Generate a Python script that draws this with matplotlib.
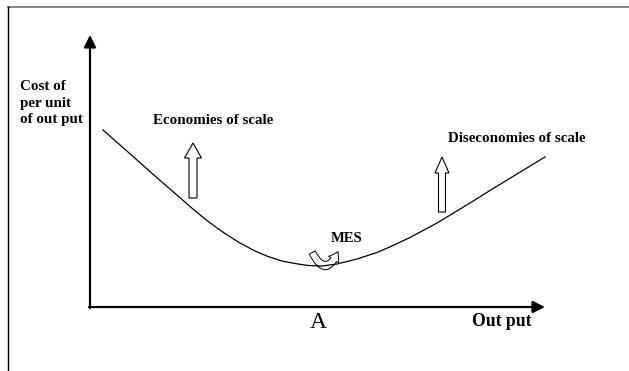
import numpy as np
import matplotlib
matplotlib.use("Agg")
import matplotlib.pyplot as plt
from matplotlib.patches import FancyArrow, FancyArrowPatch
from matplotlib.lines import Line2D

plt.rcParams['font.family'] = ['Liberation Serif', 'DejaVu Serif']

# long-run average cost curve (output, cost per unit)
output = [13, 38, 65, 88, 100, 115, 127, 138, 150, 165, 178, 192, 205, 218, 232,
          247, 267, 287, 303, 320, 347, 380, 400, 427, 455]
cost = [177, 155, 131, 111, 100.5, 88, 79, 71.5, 64, 56, 50.5, 46, 43.5, 41.5, 41,
        43, 48, 54.5, 61.5, 69.5, 84, 104, 116.5, 133, 150]

x_max = 455      # end of output axis
y_max = 272      # end of cost axis
a_marks = [194, 258]   # small breaks on the output axis around A
a_pos = 228

fig = plt.figure(figsize=(6.29, 3.71), dpi=100)
ax = fig.add_axes([0, 0, 1, 1])
ax.set_xlim(-90, 539)
ax.set_ylim(-64, 307)
ax.axis('off')

# frame of the page
fig.add_artist(Line2D([8 / 629, 1], [1 - 7 / 371] * 2, color='#707070', lw=1.2))
fig.add_artist(Line2D([8 / 629] * 2, [0, 1 - 7 / 371], color='black', lw=1.0))

# axes with arrows
arr = dict(arrowstyle='-|>,head_length=0.6,head_width=0.3', color='black', lw=1.6,
           shrinkA=0, shrinkB=0, mutation_scale=12)
ax.annotate('', xy=(0, y_max), xytext=(0, -1), arrowprops=arr)
ax.annotate('', xy=(x_max, 0), xytext=(-1, 0), arrowprops=arr)
for m in a_marks:
    ax.plot([m, m], [-2, 2], color='white', lw=1.2)

# cost curve
ax.plot(output, cost, color='black', lw=0.9, solid_joinstyle='round')

# hollow arrows
ax.add_patch(FancyArrow(103, 109, 0, 55, width=8, head_width=17, head_length=15,
                        length_includes_head=True, fc='white', ec='black', lw=0.8))
ax.add_patch(FancyArrow(352, 95, 0, 55, width=7, head_width=14, head_length=16,
                        length_includes_head=True, fc='white', ec='black', lw=0.8))
ax.add_patch(FancyArrowPatch((221, 57), (249, 58), connectionstyle='arc3,rad=1.15',
                             arrowstyle='simple,head_length=0.6,head_width=0.8,tail_width=0.45',
                             mutation_scale=11, fc='white', ec='black', lw=0.7))

# labels
bold = dict(fontsize=10.8, fontweight='bold')
ax.text(-70, 204, 'Cost of\nper unit\nof out put', ha='left', va='center', linespacing=1.35, **bold)
ax.text(123, 187, 'Economies of scale', ha='center', va='center', **bold)
ax.text(427, 169, 'Diseconomies of scale', ha='center', va='center', **bold)
ax.text(257, 69, 'MES', ha='center', va='center', fontsize=10.5, fontweight='bold')
ax.text(a_pos, -15, 'A', ha='center', va='center', fontsize=17)
ax.text(412, -15, 'Out put', ha='center', va='center', fontsize=12.7, fontweight='bold')

fig.savefig('out.png', dpi=100)
